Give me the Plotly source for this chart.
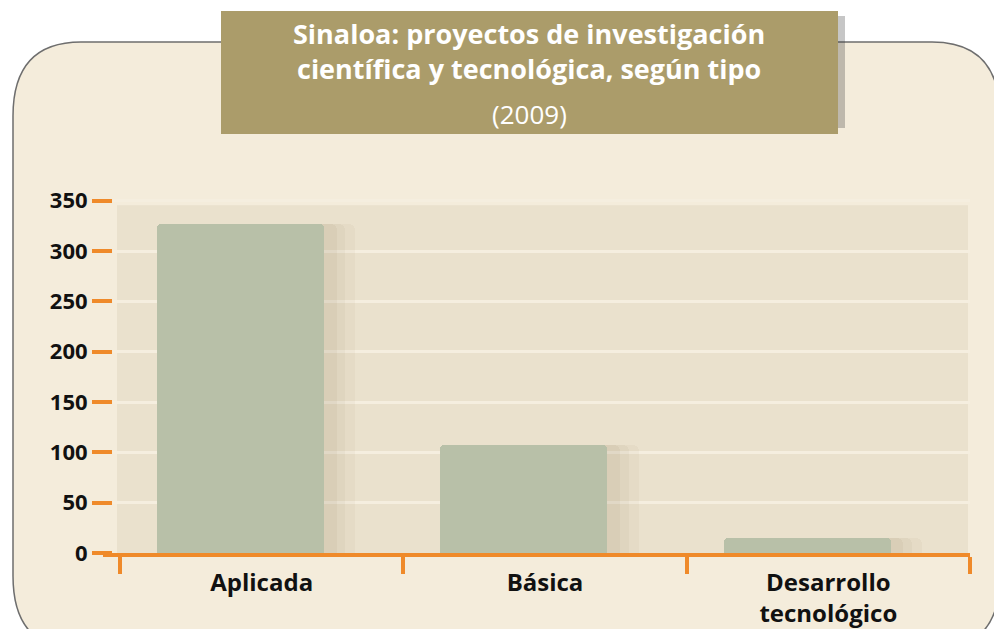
import plotly.graph_objects as go

# data
categorias = ['Aplicada', 'Básica', 'Desarrollo<br>tecnológico']
proyectos = [327, 107, 15]
y_ticks = [0, 50, 100, 150, 200, 250, 300, 350]

# the page puts an 8px body margin round the figure, so work in page pixels
OFF = 8
W, H = 1002 - 2 * OFF, 637 - 2 * OFF
L, R, T, B = 113 - OFF, W - (970 - OFF), 199 - OFF, H - (553 - OFF)


def px(x):
    return (x - OFF - L) / (W - L - R)


def py(y):
    return (H - B - (y - OFF)) / (H - T - B)


page_bg = '#f4ecdb'
plot_bg = '#eae1cd'
orange = '#ef8a2a'
bar_col = '#b8c0a8'
title_bg = '#ab9c6a'

fig = go.Figure()

# soft shadow behind the bars (a few faint layers)
for w, off, a in [(0.67, -0.34, 0.05), (0.64, -0.345, 0.06), (0.615, -0.35, 0.07)]:
    fig.add_trace(go.Bar(
        x=categorias, y=proyectos,
        width=w, offset=off,
        marker=dict(color=f'rgba(140,120,85,{a})', line=dict(width=0), cornerradius=6),
        hoverinfo='skip', showlegend=False))

fig.add_trace(go.Bar(
    x=categorias, y=proyectos,
    width=0.59, offset=-0.37,
    marker=dict(color=bar_col, line=dict(width=0), cornerradius=4),
    showlegend=False,
    hovertemplate='%{x}: %{y}<extra></extra>'))

# rounded panel
x0, x1, y0, y1 = px(13), px(1000), py(42), py(650)
r_x, r_y = 68 / (W - L - R), 74 / (H - T - B)
panel = (f'M {x0},{y0 - r_y} Q {x0},{y0} {x0 + r_x},{y0} '
         f'L {x1 - r_x},{y0} Q {x1},{y0} {x1},{y0 - r_y} '
         f'L {x1},{y1 + r_y} Q {x1},{y1} {x1 - r_x},{y1} '
         f'L {x0 + r_x},{y1} Q {x0},{y1} {x0},{y1 + r_y} Z')

shapes = [
    dict(type='path', path=panel, xref='paper', yref='paper',
         fillcolor=page_bg, line=dict(color='#6e6e6e', width=1.5), layer='below'),
    # plot band
    dict(type='rect', xref='paper', yref='y', x0=px(117), x1=px(968), y0=0, y1=345.5,
         fillcolor=plot_bg, line=dict(width=0), layer='below'),
    # title box shadow + box
    dict(type='rect', xref='paper', yref='paper',
         x0=px(834), x1=px(845), y0=py(16), y1=py(128),
         fillcolor='rgba(50,50,50,0.28)', line=dict(width=0), layer='below'),
    dict(type='rect', xref='paper', yref='paper',
         x0=px(221), x1=px(838), y0=py(11), y1=py(134),
         fillcolor=title_bg, line=dict(width=0), layer='below'),
    # bit of the x axis line left of the plot
    dict(type='line', xref='paper', yref='paper',
         x0=px(103), x1=0, y0=py(555), y1=py(555),
         line=dict(color=orange, width=4)),
]

title_font = dict(size=27, color='white', family='Open Sans', weight='bold')
annotations = [
    dict(text='Sinaloa: proyectos de investigación', x=px(529), y=py(34), font=title_font),
    dict(text='científica y tecnológica, según tipo', x=px(529), y=py(69), font=title_font),
    dict(text='(2009)', x=px(529), y=py(114),
         font=dict(size=26, color='white', family='Open Sans')),
]
for a in annotations:
    a.update(xref='paper', yref='paper', xanchor='center', yanchor='middle', showarrow=False)

fig.update_layout(
    width=W, height=H,
    margin=dict(l=L, r=R, t=T, b=B),
    paper_bgcolor='white',
    plot_bgcolor='rgba(0,0,0,0)',
    barmode='overlay',
    bargap=0,
    shapes=shapes,
    annotations=annotations,
    font=dict(family='Open Sans', color='#111111'),
)
fig.update_xaxes(
    range=[-0.5 - 7 / 283.3, 2.5],
    tickson='boundaries',
    ticks='outside', ticklen=17, tickwidth=4, tickcolor=orange,
    ticklabelstandoff=5,
    showline=True, linecolor=orange, linewidth=4,
    showgrid=False, automargin=False,
    tickfont=dict(size=24, color='#111111', family='Open Sans', weight='bold'),
)
fig.update_yaxes(
    range=[0, 351.7],
    tickvals=y_ticks,
    ticks='outside', ticklen=20, tickwidth=4, tickcolor=orange,
    showline=False, zeroline=False,
    showgrid=True, gridcolor='#f5eedf', gridwidth=3,
    automargin=False,
    tickfont=dict(size=22, color='#111111', family='Open Sans', weight='bold'),
)

fig.write_html('out.html')
